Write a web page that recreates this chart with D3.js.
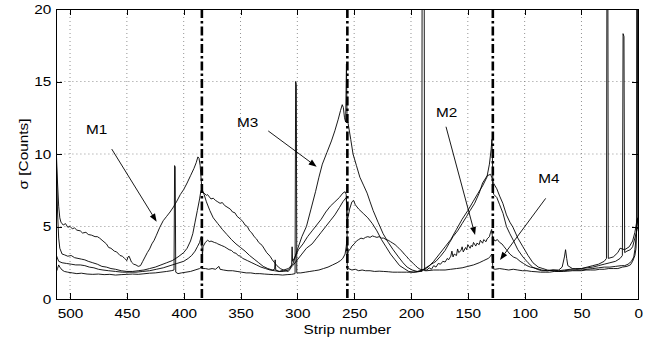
<!DOCTYPE html>
<html><head><meta charset="utf-8">
<script src="https://cdn.jsdelivr.net/npm/d3@7"></script>
<style>body{margin:0;background:#fff;} svg{display:block;}</style>
</head><body>
<svg id="chart" width="653" height="343"></svg>
<script>
// ---- data: [strip, sigma] ----
const seriesA = [[512,10.0],[511,8.0],[510,6.4],[509,5.6],[508,5.3],[506,5.1],[504,5.2],[502,4.95],[500,5.0],[498,4.85],[496,4.9],[494,4.75],[491,4.7],[489,4.55],[486,4.6],[484,4.45],[481,4.4],[478,4.3],[476,4.3],[474,4.2],[471,4.0],[468,3.8],[466,3.55],[464,3.5],[461,3.3],[459,3.25],[456,3.0],[454,2.95],[452,2.8],[450,2.65],[449,2.9],[448,2.95],[446,2.55],[444,2.4],[442,2.35],[440,2.25],[438,2.3],[436,2.6],[434,2.9],[432,3.2],[430,3.45],[428,3.8],[426,4.05],[424,4.4],[421,4.95],[418,5.4],[415,5.7],[412,6.0],[409,6.35],[406,6.75],[403,7.2],[400,7.55],[397,8.0],[394,8.5],[391,9.0],[389,9.4],[387.5,9.8],[386.5,9.7],[385.5,9.2],[384.6,8.2],
[384,7.6],[382,7.2],[380,6.7],[377,6.1],[374,5.6],[370,5.2],[366,4.8],[362,4.45],[358,4.1],[354,3.8],[350,3.55],[346,3.3],[342,3.0],[338,2.75],[334,2.5],[330,2.25],[326,2.1],[322,2.0],[320,2.05],[319.5,2.7],[319,2.0],[316,1.9],[312,1.9],[308,2.0],[304,2.3],[300,2.7],[296,3.1],[292,3.5],[287,3.8],[283,4.2],[279,4.6],[275,5.0],[271,5.4],[267,5.8],[263,6.3],[260,6.7],[258,6.9],[257,7.0],[256.5,6.4],
[256,5.4],[254,6.2],[252,6.7],[250.5,6.8],[249,6.5],[246,6.2],[242,5.9],[238,5.6],[234,5.2],[230,4.7],[226,4.1],[222,3.6],[218,3.1],[214,2.7],[210,2.3],[206,2.1],[202,1.9],[198,1.85],[194,1.9],[190,2.0],[186,2.2],[182,2.4],[178,2.6],[174,2.95],[170,3.35],[166,3.9],[163,4.3],[159,4.7],[155,5.2],[151,5.7],[148,6.1],[144,6.6],[140,7.3],[137,8.0],[133,8.5],[130,8.6],[128.5,8.3],
[128,7.4],[127,7.2],[124.5,7.0],[122,6.5],[119,5.9],[116,5.0],[113,4.5],[110,4.05],[106,3.4],[101.5,2.9],[97,2.5],[93,2.2],[89,2.05],[85,1.95],[80,1.95],[75,2.0],[70,1.95],[65,2.0],[60,2.05],[55,2.1],[50,2.1],[45,2.2],[40,2.3],[35,2.4],[30,2.6],[28,2.8],[27.6,23],[26.8,23],[26.4,2.8],[22,2.9],[18,3.2],[16,3.5],[12,3.4],[8,3.6],[5,4.0],[3,4.6],[1,5.5],[0,5.0]];

const seriesB = [[512,9.5],[511,6.0],[510,4.2],[509,3.5],[507,3.1],[505,3.05],[502,2.95],[499,3.0],[496,2.85],[493,2.8],[490,2.75],[487,2.7],[484,2.6],[480,2.5],[476,2.4],[472,2.25],[468,2.2],[464,2.1],[460,2.05],[455,1.95],[450,1.9],[445,1.9],[440,1.95],[435,2.0],[430,2.1],[425,2.2],[420,2.35],[415,2.5],[410,2.65],[405,2.9],[400,3.2],[397,3.5],[394,4.0],[392,4.5],[390,5.3],[388,6.1],[386,6.9],[385,7.4],[384.5,7.5],
[384,7.4],[382,7.3],[380,7.15],[379,7.2],[376,6.9],[374,6.95],[372,6.8],[370,6.7],[368,6.6],[366,6.65],[364,6.45],[361,6.3],[359,6.2],[357,6.0],[355,5.95],[353,5.7],[350,5.5],[348,5.35],[346,5.1],[344,5.0],[342,4.7],[340,4.55],[338,4.3],[336,4.15],[334,3.9],[331,3.7],[329,3.45],[327,3.2],[324,2.95],[322,2.7],[320,2.5],[318,2.3],[315,2.1],[311,1.95],[308,1.9],[306,2.1],[305,2.4],[304.6,3.6],[304.2,2.6],[302,2.9],[299,3.4],[295,3.8],[291,4.3],[287,4.7],[283,5.1],[279,5.5],[275,6.0],[271,6.4],[267,6.7],[263,7.0],[260,7.3],[258,7.4],[257,7.2],[256.5,6.0],
[256,3.0],[255,3.3],[253,3.5],[252,3.65],[250,3.8],[248,4.0],[246,4.1],[244,4.2],[242,4.15],[240,4.25],[238,4.3],[236,4.25],[234,4.35],[232,4.3],[230,4.25],[228,4.3],[226,4.2],[224,4.2],[222,4.1],[220,4.05],[218,3.95],[216,3.85],[214,3.75],[212,3.6],[210,3.45],[208,3.3],[206,3.1],[204,2.95],[202,2.75],[200,2.6],[198,2.45],[196,2.3],[194,2.15],[192,2.05],[188,2.0],
[186,2.0],[184,2.15],[182,2.05],[180,2.3],[178,2.2],[176,2.45],[174,2.4],[172,2.6],[170,2.55],[168,2.8],[167,2.7],[165,2.95],[164,3.3],[163,2.9],[162,3.1],[160,3.0],[159,3.45],[158,3.2],[156,3.35],[155,3.6],[154,3.25],[152,3.55],[151,3.4],[150,3.75],[148,3.5],[147,3.7],[146,3.6],[145,3.9],[143,3.65],[142,3.85],[140,3.75],[139,4.05],[137,3.85],[136,4.1],[134,3.95],[133,4.15],[131,4.3],[130,4.6],[129,4.8],[128.5,4.4],
[128,4.2],[126,4.0],[124,4.1],[122,3.9],[120,3.8],[118,3.6],[116,3.4],[113,3.1],[110,2.9],[107,2.8],[104,2.6],[101,2.45],[98,2.3],[95,2.2],[92,2.15],[89,2.1],[85,2.0],[80,1.95],[75,2.0],[70,2.0],[67,2.2],[65,2.9],[64,3.4],[63,2.8],[62,2.3],[58,2.1],[54,2.05],[50,2.1],[45,2.15],[40,2.2],[35,2.3],[30,2.4],[25,2.5],[20,2.6],[16,2.8],[14,3.0],[13.4,18.3],[12.6,18.1],[12,3.2],[10,3.3],[7,3.4],[5,3.6],[3,4.2],[1,4.8],[0,5.0]];

const seriesC = [[512,3.0],[510,2.6],[507,2.5],[503,2.45],[499,2.4],[495,2.35],[491,2.35],[487,2.3],[483,2.2],[479,2.15],[475,2.05],[471,2.0],[466,1.95],[460,1.9],[454,1.85],[448,1.85],[442,1.85],[436,1.9],[430,1.95],[424,2.05],[418,2.15],[412,2.3],[406,2.45],[400,2.6],[396,2.8],[393,3.0],[390,3.3],[388,3.6],[386,3.9],[385,4.2],[384.5,4.3],
[383.5,3.0],[383,3.6],[381,3.9],[379,4.05],[377,3.95],[376,4.0],[373,3.9],[371,3.85],[370,3.8],[367,3.7],[364,3.6],[362,3.5],[360,3.4],[358,3.35],[356,3.2],[354,3.15],[352,3.0],[350,2.95],[348,2.8],[344,2.65],[340,2.5],[336,2.35],[332,2.2],[328,2.1],[324,2.0],[320,1.95],[316,1.9],[312,2.0],[308,2.1],[304,2.4],[300,3.4],[296,4.3],[292,5.0],[288,6.2],[284,7.4],[281,8.4],[278,9.3],[274,10.1],[270,10.9],[267,11.6],[264,12.4],[262,13.0],[260.5,13.4],[259.5,13.2],[258.5,12.5],[257.5,12.2],[256.8,16.2],[256.3,12.8],
[256,12.3],[255.3,12.1],[253,11.0],[251,10.0],[248,9.2],[245,8.4],[241.5,7.8],[238.6,7.3],[236,6.7],[233.3,6.1],[229,5.3],[224.5,4.5],[220,3.9],[215.7,3.4],[211,2.9],[207,2.5],[203.4,2.2],[199,2.0],[194.6,1.9],[190,1.95],[185,2.2],[180,2.6],[175,3.1],[170,3.6],[165,4.1],[160,4.8],[155,5.5],[150,6.1],[145.5,6.7],[141,7.3],[137,7.8],[133.2,8.4],[131,9.3],[129.5,10.3],[128.8,11.0],[128.4,10.0],
[128,8.2],[127.5,8.0],[126,7.8],[124.5,7.6],[122,7.1],[119.2,6.6],[116,5.8],[113,5.3],[110.3,4.95],[106,4.2],[101.5,3.6],[97,3.0],[92.7,2.5],[88,2.2],[84,2.1],[80,2.0],[75,1.95],[70,1.9],[65,1.95],[60,2.0],[55,2.0],[50,2.0],[45,2.05],[40,2.1],[35,2.15],[30,2.2],[25,2.2],[20,2.25],[15,2.3],[12,2.3],[9,2.4],[6,2.6],[4,2.9],[3,3.4],[2,4.2],[1,5.3],[0.5,5.6],[0,5.2]];

const seriesD = [[512,1.9],[511,2.1],[510,2.35],[509,2.2],[507,2.0],[505,1.9],[502,1.85],[498,1.8],[494,1.75],[490,1.78],[485,1.72],[480,1.7],[475,1.72],[470,1.68],[465,1.7],[460,1.65],[455,1.68],[450,1.7],[445,1.72],[440,1.7],[435,1.74],[430,1.78],[425,1.8],[420,1.85],[415,1.9],[411,1.95],[408.5,2.0],[408,9.2],[407.5,9.1],[407,1.85],[405,1.75],[402,1.8],[398,1.85],[394,1.9],[390,2.0],[386,2.1],[384.5,2.2],
[384,2.1],[381,2.1],[378,2.05],[375,2.1],[372,2.05],[369,2.25],[368,2.05],[365,2.0],[361,1.95],[357,1.95],[353,1.9],[349,1.85],[345,1.8],[341,1.8],[337,1.75],[333,1.75],[329,1.72],[325,1.7],[321,1.68],[317,1.68],[313,1.65],[309,1.68],[305,1.7],[302,1.75],[301.5,15.0],[300.9,14.8],[300.5,1.8],[297,1.8],[293,1.85],[289,1.9],[285,1.95],[281,2.0],[277,2.1],[273,2.2],[269,2.35],[265,2.5],[262,2.65],[260,2.8],[258,3.1],[257,3.6],[256.5,4.0],
[256,2.0],[255,2.1],[252,2.0],[249,2.05],[246,1.95],[243,2.0],[240,1.95],[236,1.95],[232,1.9],[228,1.92],[224,1.9],[220,1.88],[216,1.85],[212,1.85],[208,1.85],[204,1.85],[200,1.85],[196,1.85],[192,1.9],[190.5,1.9],[190.2,23],[188.4,23],[188,1.95],[186,1.95],[180,2.0],[175,2.0],[170,2.0],[165,2.05],[160,2.1],[155,2.15],[150,2.25],[145,2.35],[140,2.5],[136,2.65],[132,2.8],[130,2.95],[129,3.1],[128.5,3.0],
[128,2.1],[126,2.05],[122,2.1],[118,2.05],[114,2.0],[110,2.05],[106,2.0],[102,1.95],[98,1.95],[94,1.9],[90,1.88],[86,1.85],[82,1.85],[78,1.85],[74,1.9],[70,1.9],[66,1.9],[62,1.92],[58,1.95],[54,1.95],[50,1.95],[46,2.0],[42,2.0],[38,2.0],[34,2.05],[30,2.05],[26,2.1],[22,2.1],[18,2.1],[14,2.2],[10,2.25],[7,2.35],[5,2.6],[3,3.0],[2,3.5],[1.6,4.5],[1.4,23],[0.8,23],[0.5,5.5],[0,5.0]];

const xTicks = [500,450,400,350,300,250,200,150,100,50,0];
const yTicks = [0,5,10,15,20];
const moduleBounds = [384,256,128];
const annLabels = ["M1","M3","M2","M4"];
const annText = [[486,11.38],[353.1,11.86],[178.1,12.55],[88.0,8.0]];
const annFrom = [[463.3,10.34],[325.6,11.59],[169.2,11.88],[81.5,6.94]];
const annTo = [[423.8,5.33],[283,9.12],[143.6,4.41],[121.7,2.69]];
const xLabel = "Strip number";
const yLabel = "σ [Counts]";

// ---- drawing ----
const svg = d3.select("#chart");
const L = 56.4, R = 638.3, T = 9, B = 299;
const x = d3.scaleLinear().domain([512,0]).range([L,R]);
const y = d3.scaleLinear().domain([0,20]).range([B,T]);
const FONT = "'Liberation Sans', Arial, Helvetica, sans-serif";
const SX = 1.18;

svg.append("rect").attr("width",653).attr("height",343).attr("fill","#fff");

// grid
const grid = svg.append("g").attr("stroke","#777").attr("stroke-width",0.8).attr("stroke-dasharray","1,3");
grid.selectAll("line.gx").data(xTicks.filter(d=>d>0 && d<512)).join("line")
  .attr("x1",d=>x(d)).attr("x2",d=>x(d)).attr("y1",T).attr("y2",B);
grid.selectAll("line.gy").data(yTicks.filter(d=>d>0 && d<20)).join("line")
  .attr("y1",d=>y(d)).attr("y2",d=>y(d)).attr("x1",L).attr("x2",R);

// data
svg.append("defs").append("clipPath").attr("id","clip").append("rect")
  .attr("x",L).attr("y",T).attr("width",R-L).attr("height",B-T);
const line = d3.line().x(d=>x(d[0])).y(d=>y(d[1]));
svg.append("g").attr("clip-path","url(#clip)")
  .selectAll("path").data([seriesD,seriesC,seriesB,seriesA]).join("path")
  .attr("d",line).attr("fill","none").attr("stroke","#000").attr("stroke-width",0.9)
  .attr("stroke-linejoin","round");

// module boundaries
svg.append("g").selectAll("line").data(moduleBounds).join("line")
  .attr("x1",d=>x(d)).attr("x2",d=>x(d)).attr("y1",y(20)).attr("y2",y(0))
  .attr("stroke","#000").attr("stroke-width",2.6).attr("stroke-dasharray","9,3,2.5,3");

// axes
function styleAxis(g){
  g.select(".domain").remove();
  g.selectAll(".tick line").attr("stroke","#000").attr("stroke-width",1).attr("shape-rendering","crispEdges");
  g.selectAll("text").attr("font-family",FONT).attr("font-size",13).attr("fill","#000");
}
svg.append("g").attr("transform",`translate(0,${B})`)
  .call(d3.axisBottom(x).tickValues(xTicks).tickSizeInner(-6).tickSizeOuter(0).tickPadding(9.5).tickFormat(d3.format("d")))
  .call(styleAxis).call(g=>g.selectAll("text").attr("transform",`scale(${SX},1)`));
svg.append("g").attr("transform",`translate(0,${T})`)
  .call(d3.axisTop(x).tickValues(xTicks).tickSizeInner(-6).tickSizeOuter(0).tickFormat(""))
  .call(styleAxis);
svg.append("g").attr("transform",`translate(${L},0)`)
  .call(d3.axisLeft(y).tickValues(yTicks).tickSizeInner(-6).tickSizeOuter(0).tickPadding(4.3).tickFormat(d3.format("d")))
  .call(styleAxis).call(g=>g.selectAll("text").attr("transform",`scale(${SX},1)`));
svg.append("g").attr("transform",`translate(${R},0)`)
  .call(d3.axisRight(y).tickValues(yTicks).tickSizeInner(-6).tickSizeOuter(0).tickFormat(""))
  .call(styleAxis);

// box
svg.append("rect").attr("x",L).attr("y",T).attr("width",R-L).attr("height",B-T)
  .attr("fill","none").attr("stroke","#000").attr("stroke-width",1).attr("shape-rendering","crispEdges");

// labels
function label(px,py,str,anchor,rot){
  svg.append("text").attr("transform",`translate(${px},${py})${rot?` rotate(${rot})`:""} scale(${SX},1)`)
    .attr("text-anchor",anchor).attr("font-family",FONT).attr("font-size",13).attr("fill","#000").text(str);
}
label((L+R)/2, 333.5, xLabel, "middle");
label(28, (T+B)/2, yLabel, "middle", -90);

// annotations
annLabels.forEach((lab,i)=>{
  label(x(annText[i][0]), y(annText[i][1]), lab, "start");
  const x0=x(annFrom[i][0]), y0=y(annFrom[i][1]), x1=x(annTo[i][0]), y1=y(annTo[i][1]);
  const dx=x1-x0, dy=y1-y0, len=Math.hypot(dx,dy), ux=dx/len, uy=dy/len;
  const hl=8, hw=3;
  const bx=x1-ux*hl, by=y1-uy*hl;
  svg.append("line").attr("x1",x0).attr("y1",y0).attr("x2",bx).attr("y2",by)
    .attr("stroke","#000").attr("stroke-width",0.9);
  svg.append("path").attr("d",`M${x1},${y1}L${bx-uy*hw},${by+ux*hw}L${bx+uy*hw},${by-ux*hw}Z`).attr("fill","#000");
});
</script>
</body></html>
